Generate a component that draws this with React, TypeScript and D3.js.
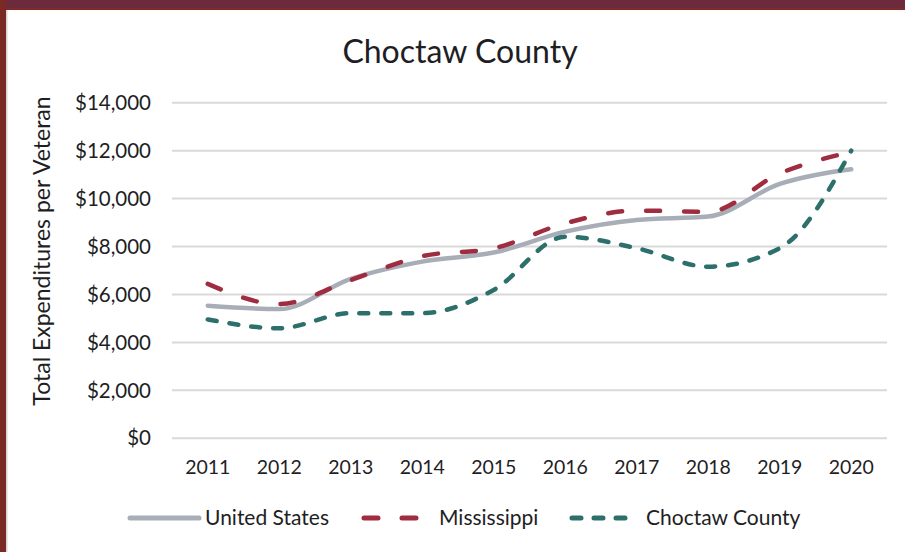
import React from 'react';
import * as d3 from 'd3';

const years = ['2011', '2012', '2013', '2014', '2015', '2016', '2017', '2018', '2019', '2020'];
const unitedStates = [5530, 5390, 6650, 7370, 7750, 8620, 9110, 9250, 10610, 11220];
const mississippi = [6440, 5600, 6600, 7600, 7930, 8970, 9500, 9450, 11050, 11950];
const choctaw = [4960, 4590, 5220, 5220, 6190, 8410, 7930, 7160, 7930, 12000];
const yTicks = [0, 2000, 4000, 6000, 8000, 10000, 12000, 14000];

const W = 905;
const H = 552;
const font = 'Lato, "Open Sans", sans-serif';
const textColor = '#1e1e24';

const series = [
  { name: 'United States', values: unitedStates, color: '#a8aeb7', dash: '' },
  { name: 'Mississippi', values: mississippi, color: '#a02c40', dash: '14 24' },
  { name: 'Choctaw County', values: choctaw, color: '#2c6f6b', dash: '9 13' },
];

// legend line extents (start, end) and text start
const legendPos = [
  { x0: 130, x1: 199, tx: 205 },
  { x0: 364, x1: 426, tx: 439 },
  { x0: 572, x1: 634, tx: 646 },
];

export default function App() {
  const x = d3.scaleBand<string>().domain(years).range([172, 887]).padding(0);
  const y = d3.scaleLinear().domain([0, 14000]).range([438.3, 102.7]);
  const cx = (d: string) => (x(d) as number) + x.bandwidth() / 2;

  const line = d3
    .line<number>()
    .x((_, i) => cx(years[i]))
    .y((v) => y(v))
    .curve(d3.curveMonotoneX);

  const fmt = d3.format(',');

  return (
    <div style={{ position: 'absolute', left: 0, top: 0 }}>
      <svg width={W} height={H} style={{ display: 'block', background: '#fff' }}>
        {/* frame */}
        <rect x={0} y={0} width={W} height={8} fill="#6d2a3c" />
        <rect x={0} y={8} width={W} height={2} fill="#7c2b27" />
        <rect x={0} y={0} width={6} height={H} fill="#7a2a25" />
        <rect x={6} y={10} width={1.5} height={H} fill="#d6d6d6" />

        {/* title */}
        <text x={460} y={63} textAnchor="middle" fontFamily={font} fontSize={32} fill={textColor}>
          Choctaw County
        </text>

        {/* gridlines + y ticks */}
        {yTicks.map((t) => (
          <g key={t}>
            <line x1={172} x2={887} y1={y(t)} y2={y(t)} stroke="#d9d9d9" strokeWidth={2} />
            <text
              x={151}
              y={y(t)}
              dy="0.35em"
              textAnchor="end"
              fontFamily={font}
              fontSize={20.5}
              fill={textColor}
            >
              {'$' + fmt(t)}
            </text>
          </g>
        ))}

        {/* x labels */}
        {years.map((yr) => (
          <text key={yr} x={cx(yr)} y={474} textAnchor="middle" fontFamily={font} fontSize={19.5} fill={textColor}>
            {yr}
          </text>
        ))}

        {/* y axis title */}
        <text
          transform={`translate(50,251) rotate(-90)`}
          textAnchor="middle"
          fontFamily={font}
          fontSize={23}
          fill={textColor}
        >
          Total Expenditures per Veteran
        </text>

        {/* series */}
        {series.map((s) => (
          <path
            key={s.name}
            d={line(s.values) || ''}
            fill="none"
            stroke={s.color}
            strokeWidth={4.5}
            strokeDasharray={s.dash || undefined}
            strokeLinecap="round"
            strokeLinejoin="round"
          />
        ))}

        {/* legend */}
        {series.map((s, i) => (
          <g key={s.name}>
            <line
              x1={legendPos[i].x0}
              x2={legendPos[i].x1}
              y1={518}
              y2={518}
              stroke={s.color}
              strokeWidth={5}
              strokeDasharray={s.dash || undefined}
              strokeLinecap="round"
            />
            <text x={legendPos[i].tx} y={518} dy="0.35em" fontFamily={font} fontSize={21} fill={textColor}>
              {s.name}
            </text>
          </g>
        ))}
      </svg>
    </div>
  );
}
